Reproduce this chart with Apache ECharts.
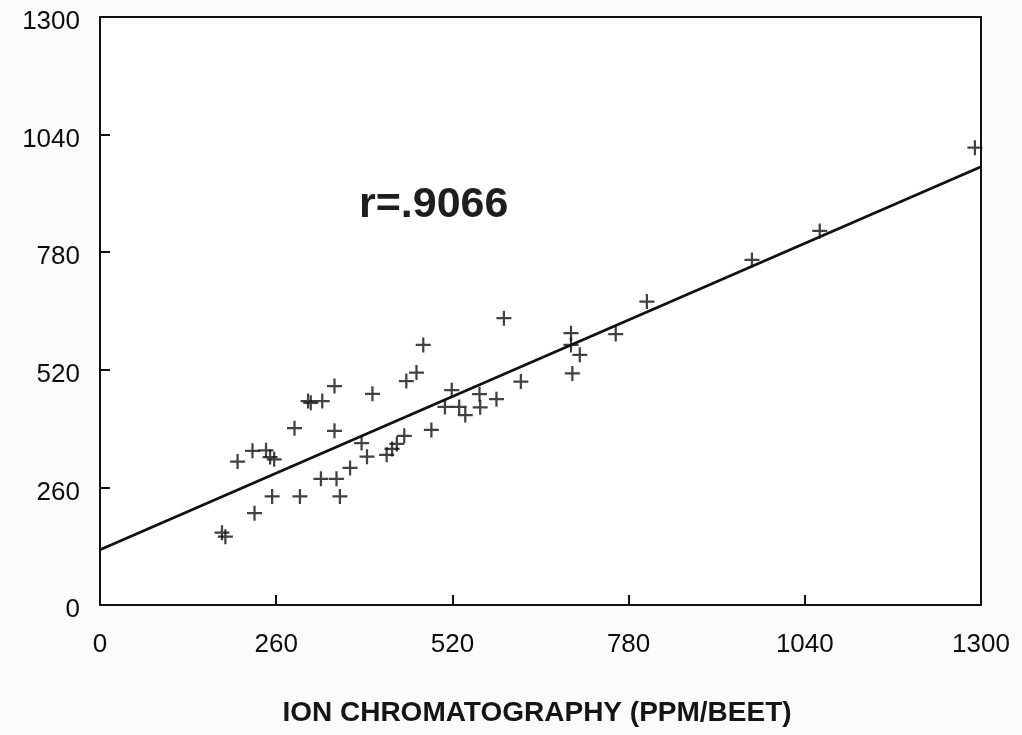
<!DOCTYPE html>
<html>
<head>
<meta charset="utf-8">
<script src="https://cdn.jsdelivr.net/npm/echarts@6/dist/echarts.min.js"></script>
<style>
html,body{margin:0;padding:0;background:#fbfbfb;}
#chart{width:1022px;height:735px;}
</style>
</head>
<body>
<div id="chart"></div>
<script>
// Data
const xValues = [180,185,203,225,228,245,251,254,257,287,295,307,311,326,328,346,346,349,354,369,386,394,402,423,431,438,449,452,467,477,489,509,519,530,539,560,561,585,596,621,695,695,697,708,761,807,962,1062,1291];
const yValues = [160,151,317,341,203,342,327,240,322,391,240,451,447,279,451,484,385,279,240,303,358,328,467,332,345,356,374,495,514,575,387,438,475,438,420,466,437,455,634,494,601,575,512,553,599,671,763,827,1011];
const fitX = [0, 1300];
const fitY = [122, 969];
const tickValues = [0, 260, 520, 780, 1040, 1300];
const rLabel = 'r=.9066';
const xTitle = 'ION CHROMATOGRAPHY (PPM/BEET)';

const points = xValues.map((x, i) => [x, yValues[i]]);
const fitLine = fitX.map((x, i) => [x, fitY[i]]);

const chart = echarts.init(document.getElementById('chart'), null, {renderer: 'canvas'});
const plus = 'path://M-1.5,-10 L1.5,-10 L1.5,10 L-1.5,10 Z M-10,-1.5 L10,-1.5 L10,1.5 L-10,1.5 Z';
const font = '"Liberation Sans", Arial, sans-serif';

chart.setOption({
  backgroundColor: '#fbfbfb',
  animation: false,
  grid: {left: 100, right: 41, top: 17, bottom: 130, show: true, borderColor: '#111', borderWidth: 2, backgroundColor: '#ffffff'},
  xAxis: {
    type: 'value', min: 0, max: 1300, interval: 260,
    axisLine: {show: true, lineStyle: {color: '#111', width: 2}},
    axisTick: {show: true, inside: true, length: 10, lineStyle: {color: '#111', width: 2}},
    splitLine: {show: false},
    axisLabel: {color: '#0d0d0d', fontSize: 26, fontFamily: font, margin: 27,
      formatter: v => tickValues.includes(v) ? String(v) : ''}
  },
  yAxis: {
    type: 'value', min: 0, max: 1300, interval: 260,
    axisLine: {show: true, lineStyle: {color: '#111', width: 2}},
    axisTick: {show: true, inside: true, length: 10, lineStyle: {color: '#111', width: 2}},
    splitLine: {show: false},
    axisLabel: {color: '#0d0d0d', fontSize: 26, fontFamily: font, margin: 20, verticalAlign: 'top', lineHeight: 10,
      formatter: v => tickValues.includes(v) ? String(v) : ''}
  },
  graphic: [
    {type: 'text', left: 359, top: 184, style: {text: rLabel, fill: '#1e1e1e', font: 'bold 43px ' + font}},
    {type: 'text', x: 537, y: 713, style: {text: xTitle, fill: '#151515', font: 'bold 28px ' + font, align: 'center', verticalAlign: 'middle'}}
  ],
  series: [
    {type: 'line', data: fitLine, showSymbol: false, lineStyle: {color: '#111', width: 2.8}, z: 2},
    {type: 'scatter', data: points, symbol: plus, symbolSize: 15, itemStyle: {color: '#111'}, z: 3}
  ]
});
</script>
</body>
</html>
